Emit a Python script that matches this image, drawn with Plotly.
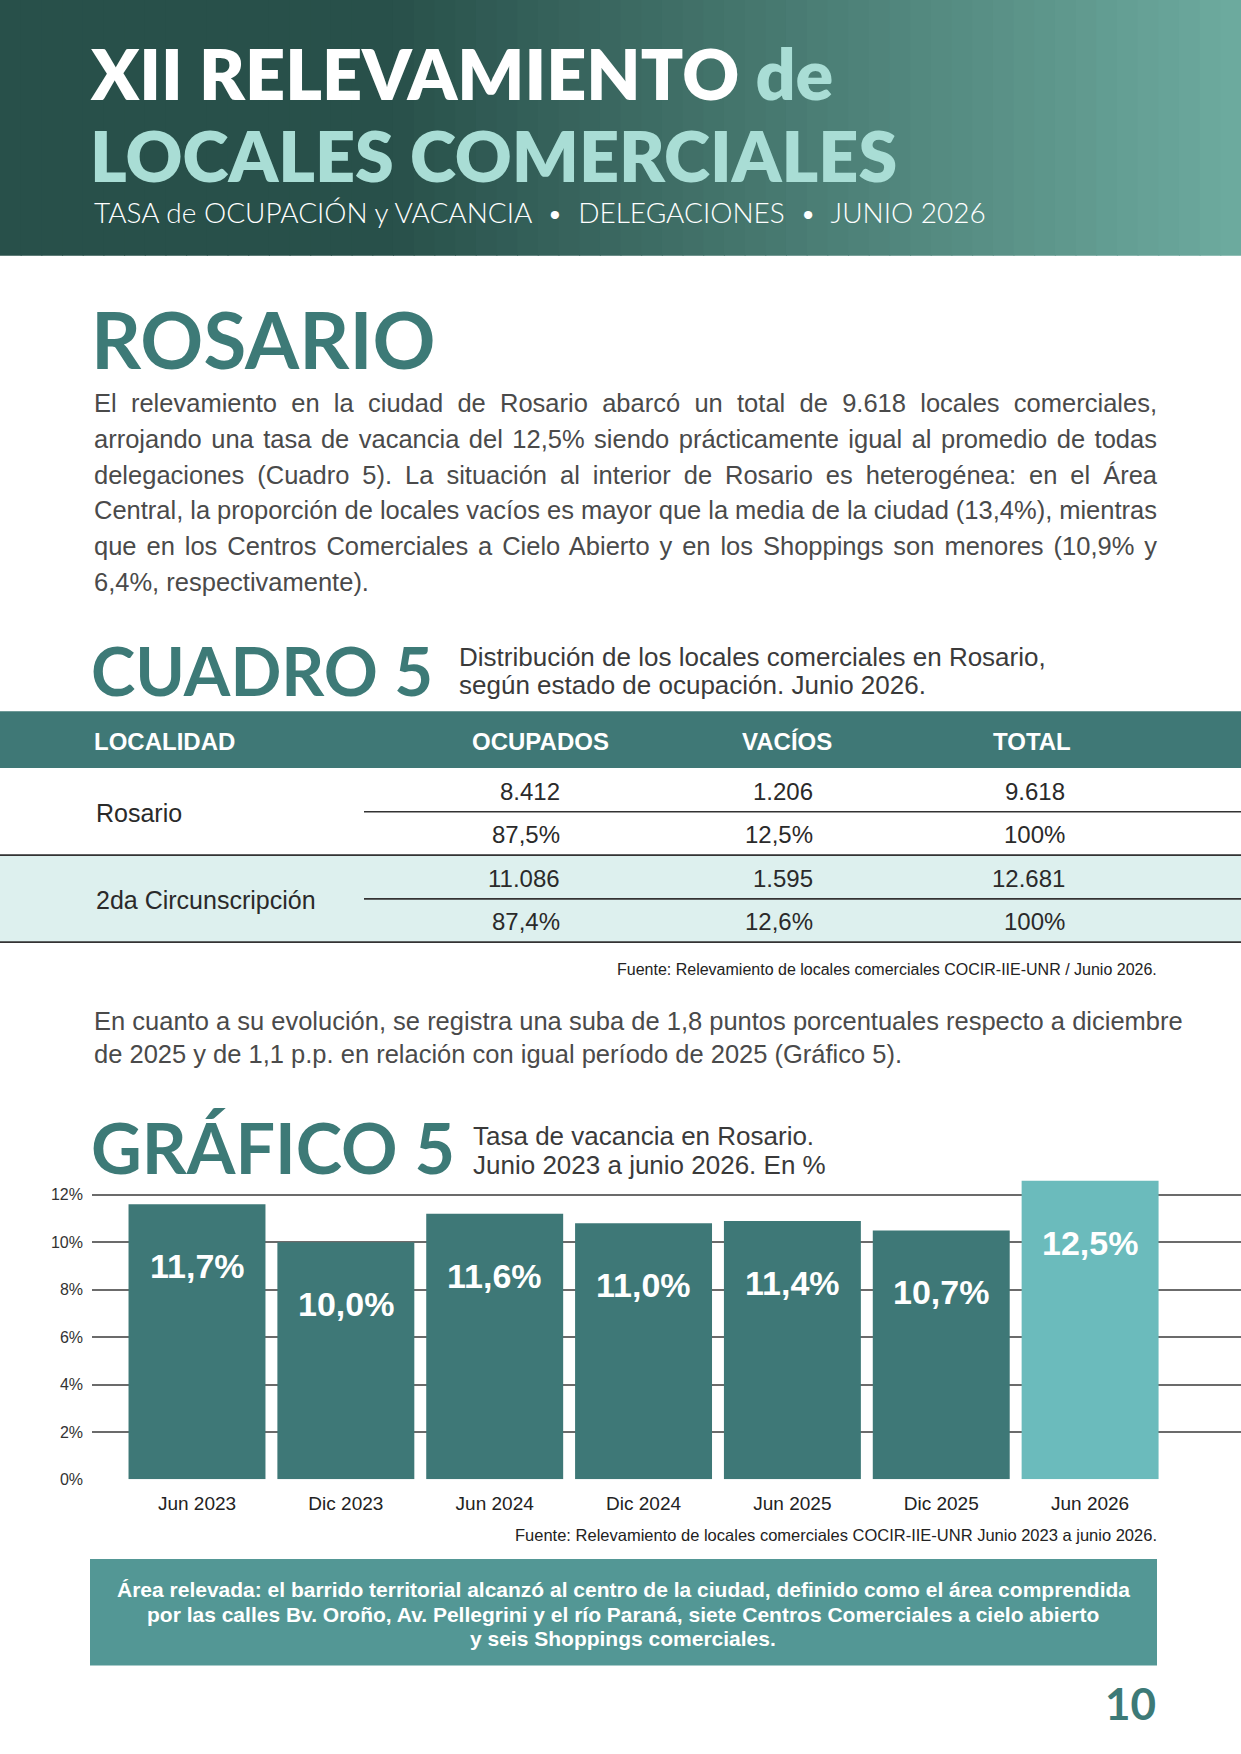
import plotly.graph_objects as go

# page size in pixels
W, H = 1241, 1754


def px(x):
    # pixel -> paper x
    return x / W


def py(y):
    # pixel (from top) -> paper y
    return 1 - y / H


# ---- chart data (Grafico 5) ----
periodos = ['Jun 2023', 'Dic 2023', 'Jun 2024', 'Dic 2024', 'Jun 2025', 'Dic 2025', 'Jun 2026']
tasa_vacancia = [11.6, 10.0, 11.2, 10.8, 10.9, 10.5, 12.6]
etiquetas = ['11,7%', '10,0%', '11,6%', '11,0%', '11,4%', '10,7%', '12,5%']
y_ticks = [0, 2, 4, 6, 8, 10, 12]
y_ticktext = ['0%', '2%', '4%', '6%', '8%', '10%', '12%']

# ---- table data (Cuadro 5) ----
localidades = ['Rosario', '2da Circunscripción']
ocupados = ['8.412', '11.086']
ocupados_pct = ['87,5%', '87,4%']
vacios = ['1.206', '1.595']
vacios_pct = ['12,5%', '12,6%']
totales = ['9.618', '12.681']
totales_pct = ['100%', '100%']
columnas = ['LOCALIDAD', 'OCUPADOS', 'VACÍOS', 'TOTAL']

# ---- texts ----
parrafo1 = [
    'El relevamiento en la ciudad de Rosario abarcó un total de 9.618 locales comerciales,',
    'arrojando una tasa de vacancia del 12,5% siendo prácticamente igual al promedio de todas',
    'delegaciones (Cuadro 5). La situación al interior de Rosario es heterogénea: en el Área',
    'Central, la proporción de locales vacíos es mayor que la media de la ciudad (13,4%), mientras',
    'que en los Centros Comerciales a Cielo Abierto y en los Shoppings son menores (10,9% y',
    '6,4%, respectivamente).',
]
parrafo2 = [
    'En cuanto a su evolución, se registra una suba de 1,8 puntos porcentuales respecto a diciembre',
    'de 2025 y de 1,1 p.p. en relación con igual período de 2025 (Gráfico 5).',
]
recuadro = [
    'Área relevada: el barrido territorial alcanzó al centro de la ciudad, definido como el área comprendida',
    'por las calles Bv. Oroño, Av. Pellegrini y el río Paraná, siete Centros Comerciales a cielo abierto',
    'y seis Shoppings comerciales.',
]

TEAL = '#3e7877'
TEAL_LIGHT = '#6bbbbc'
TITLE_TEAL = '#3d7a77'
PALE = '#a9ddd5'
BODY = 'Liberation Sans, Arial, sans-serif'
HEAD = 'Lato, Open Sans, sans-serif'

fig = go.Figure()

fig.add_trace(go.Bar(x=list(range(len(periodos))),
                     y=tasa_vacancia,
                     width=0.92,
                     marker=dict(color=[TEAL] * 6 + [TEAL_LIGHT], line=dict(width=0)),
                     hoverinfo='skip'))

shapes = []
annotations = []
justificar = []  # annotation indexes of justified lines


def text(x, y, s, size, color='#3a3a3a', family=BODY, anchor='left', weight=None):
    f = dict(size=size, color=color, family=family)
    if weight:
        f['weight'] = weight
    annotations.append(dict(x=px(x), y=py(y), xref='paper', yref='paper', text=s,
                            showarrow=False, xanchor=anchor, yanchor='middle', font=f,
                            align=anchor if anchor != 'center' else 'center'))
    return len(annotations) - 1


def rect(x0, y0, x1, y1, color):
    shapes.append(dict(type='rect', xref='paper', yref='paper', x0=px(x0), x1=px(x1),
                       y0=py(y0), y1=py(y1), fillcolor=color, line=dict(width=0), layer='below'))


def hline(x0, x1, y, color='#333333', width=1.6):
    shapes.append(dict(type='line', xref='paper', yref='paper', x0=px(x0), x1=px(x1),
                       y0=py(y), y1=py(y), line=dict(color=color, width=width)))


# header gradient band
c0 = (40, 80, 74)
c1 = (110, 172, 160)
n = 60
for i in range(n):
    xa = W * i / n
    t = max(0.0, (xa - 380) / (W - 380))
    col = tuple(round(c0[k] + (c1[k] - c0[k]) * t) for k in range(3))
    rect(xa, 0, xa + W / n + 1, 257, 'rgb(%d,%d,%d)' % col)

text(88, 73, 'XII RELEVAMIENTO <span style="color:%s">de</span>' % PALE, 70, 'white', HEAD, weight=800)
text(88, 156, 'LOCALES COMERCIALES', 70, PALE, HEAD, weight=800)
text(92, 213, 'TASA de OCUPACIÓN y VACANCIA\u00a0\u00a0•\u00a0\u00a0DELEGACIONES\u00a0\u00a0•\u00a0\u00a0JUNIO 2026',
     28, 'white', HEAD, weight=300)

# Rosario section
text(89, 341, 'ROSARIO', 78, TITLE_TEAL, HEAD, weight=700)
for i, line in enumerate(parrafo1):
    k = text(92, 405 + i * 36, line, 25.5, '#4a4a4a')
    if i < len(parrafo1) - 1:
        justificar.append(k)

# Cuadro 5
text(89, 673, 'CUADRO 5', 67, TITLE_TEAL, HEAD, weight=700)
text(457, 660, 'Distribución de los locales comerciales en Rosario,', 26)
text(457, 689, 'según estado de ocupación. Junio 2026.', 26)

rect(0, 715, W, 772, '#3f7876')
rect(0, 859, W, 947, '#ddf0ee')
col_x = [92, 540, 787, 1032]
for j, c in enumerate(columnas):
    text(col_x[j], 745, c, 24, 'white', anchor='left' if j == 0 else 'center', weight=700)

right_x = [562, 815, 1067]
for i, loc in enumerate(localidades):
    top = 772 + i * 87.5
    text(94, top + 45, loc, 25, '#2a2a2a')
    vals = [ocupados[i], vacios[i], totales[i]]
    pcts = [ocupados_pct[i], vacios_pct[i], totales_pct[i]]
    for j in range(3):
        text(right_x[j], top + 24, vals[j], 24, '#2a2a2a', anchor='right')
        text(right_x[j], top + 67, pcts[j], 24, '#2a2a2a', anchor='right')
    hline(364, W, top + 44)
    hline(0, W, top + 87.5)

text(1159, 974, 'Fuente: Relevamiento de locales comerciales COCIR-IIE-UNR / Junio 2026.', 16, '#222222', anchor='right')

for i, line in enumerate(parrafo2):
    text(92, 1026 + i * 33, line, 25.5, '#4a4a4a')

# Grafico 5
text(89, 1153, 'GRÁFICO 5', 70, TITLE_TEAL, HEAD, weight=700)
text(471, 1142, 'Tasa de vacancia en Rosario.', 26)
text(471, 1171, 'Junio 2023 a junio 2026. En %', 26)

for i, lab in enumerate(etiquetas):
    annotations.append(dict(x=i, y=tasa_vacancia[i], xref='x', yref='y', text=lab, showarrow=False,
                            xanchor='center', yanchor='middle', yshift=-62,
                            font=dict(size=34, color='white', family=BODY, weight=700)))

text(1159, 1543, 'Fuente: Relevamiento de locales comerciales COCIR-IIE-UNR Junio 2023 a junio 2026.',
     16.5, '#222222', anchor='right')

# bottom box
rect(90, 1567, 1157, 1674, '#539795')
for i, line in enumerate(recuadro):
    text(623, 1598 + i * 24.5, line, 21, 'white', anchor='center', weight=700)

text(1158, 1712, '10', 44, TITLE_TEAL, HEAD, anchor='right', weight=700)

pitch = 148.85
fig.update_layout(
    width=W, height=H,
    margin=dict(l=0, r=0, t=0, b=0),
    paper_bgcolor='white', plot_bgcolor='white',
    showlegend=False,
    shapes=shapes,
    annotations=annotations,
    xaxis=dict(domain=[px(92), 1],
               range=[-(197 - 92) / pitch, (W - 197) / pitch],
               tickvals=list(range(len(periodos))), ticktext=periodos,
               showgrid=False, zeroline=False, showline=False, ticks='',
               tickfont=dict(size=19, color='#222222', family=BODY),
               ticklabelstandoff=11, fixedrange=True),
    yaxis=dict(domain=[py(1487), py(1487 - 13 * 23.83)],
               range=[0, 13],
               tickvals=y_ticks, ticktext=y_ticktext,
               showgrid=True, gridcolor='#6b6b6b', gridwidth=1.6,
               zeroline=False, showline=False, ticks='',
               tickfont=dict(size=16, color='#333333', family=BODY),
               ticklabelstandoff=8, fixedrange=True),
)

# page without body margin; paragraph lines justified to the text column width
ancho_columna = 1155 - 92
post = """
document.documentElement.style.overflow = 'hidden';
document.body.style.margin = '0';
document.body.style.overflow = 'hidden';
document.body.style.lineHeight = '0';
document.body.style.fontSize = '0';
var gd = document.getElementById('{plot_id}');
var idx = %s;
idx.forEach(function(k) {
  var t = gd.querySelector('.annotation[data-index="' + k + '"] text');
  if (!t) { return; }
  var w = t.getComputedTextLength();
  var n = (t.textContent.match(/ /g) || []).length;
  if (n > 0) { t.style.wordSpacing = ((%d - w) / n) + 'px'; }
});
""" % (str(justificar), ancho_columna)

fig.write_html('out.html', post_script=post, config={'displayModeBar': False})
